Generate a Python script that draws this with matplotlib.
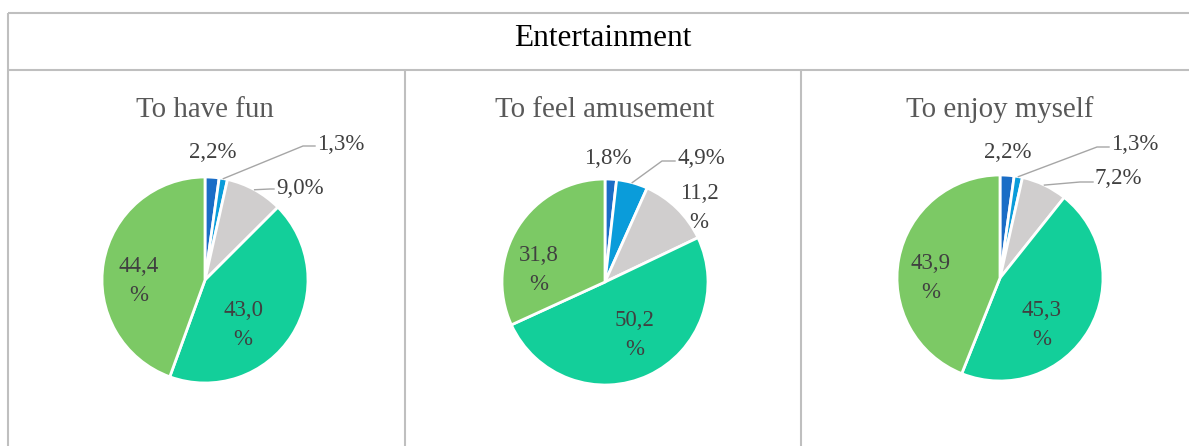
import matplotlib.pyplot as plt
import numpy as np

W, H = 1189, 446

# share of answers per item, clockwise from 12 o'clock
panel_titles = ["To have fun", "To feel amusement", "To enjoy myself"]
have_fun = [2.2, 1.3, 9.0, 43.0, 44.4]
feel_amusement = [1.8, 4.9, 11.2, 50.2, 31.8]
enjoy_myself = [2.2, 1.3, 7.2, 45.3, 43.9]
slice_colors = ["#1A6DC6", "#0A9CDA", "#D0CECE", "#13CF9A", "#7CC965"]

# pie centres and radius in pixels (y measured from the top)
centers = [(205, 280), (605, 282), (1000, 278)]
radius = 103

# label layout per pie: (x, y, wrap, leader) in pixels; leader = (elbow, end) or None
label_layout = [
    [(213, 153, False, None),
     (317, 144, False, ((303, 146), (315, 146))),
     (276, 188, False, ((270, 189), (274, 189))),
     (243, 325, True, None),
     (139, 281, True, None)],
    [(608, 158, False, None),
     (677, 158, False, ((662, 161), (675, 161))),
     (699, 208, True, None),
     (635, 335, True, None),
     (539, 270, True, None)],
    [(1008, 153, False, None),
     (1111, 144, False, ((1097, 147), (1109, 147))),
     (1095, 178, False, ((1080, 182), (1093, 182))),
     (1042, 325, True, None),
     (931, 278, True, None)],
]

SERIF = ["Liberation Serif", "DejaVu Serif"]
FRAME = "#BFBFBF"


def fmt(v, wrap):
    s = f"{v:.1f}".replace(".", ",")
    return s + ("\n%" if wrap else "%")


fig = plt.figure(figsize=(W / 100, H / 100), dpi=100)
ax = fig.add_axes([0, 0, 1, 1])

# table frame
ax.plot([8, W], [H - 13, H - 13], color=FRAME, lw=1.5, solid_capstyle="butt")
ax.plot([8, W], [H - 70, H - 70], color=FRAME, lw=1.5, solid_capstyle="butt")
ax.plot([8, 8], [H - 13, 0], color=FRAME, lw=1.5, solid_capstyle="butt")
for xd in (405, 801):
    ax.plot([xd, xd], [H - 70, 0], color=FRAME, lw=1.5, solid_capstyle="butt")

ax.text(603, H - 38, "Entertainment", ha="center", va="center",
        fontsize=22.5, family=SERIF, color="black")

series = [have_fun, feel_amusement, enjoy_myself]
for title, values, (cx, cy), layout in zip(panel_titles, series, centers, label_layout):
    ax.pie(values, colors=slice_colors, startangle=90, counterclock=False,
           center=(cx, H - cy), radius=radius,
           wedgeprops=dict(edgecolor="white", linewidth=2.0))
    ax.text(cx, H - 110, title, ha="center", va="center",
            fontsize=20.8, family=SERIF, color="#595959")

    before = np.cumsum([0] + values[:-1])
    for v, b, (lx, ly, wrap, leader) in zip(values, before, layout):
        if leader is not None:
            ang = np.deg2rad(90 - 3.6 * (b + v / 2))
            sx = cx + radius * np.cos(ang)
            sy = cy - radius * np.sin(ang)
            (ex, ey), (tx, ty) = leader
            ax.plot([sx, ex, tx], [H - sy, H - ey, H - ty],
                    color="#A6A6A6", lw=1.0)
            ax.text(lx, H - ly, fmt(v, wrap), ha="left", va="center",
                    fontsize=16.5, family=SERIF, color="#404040")
        else:
            ax.text(lx, H - ly, fmt(v, wrap), ha="center", va="center",
                    fontsize=16.5, family=SERIF, color="#404040",
                    linespacing=1.45, multialignment="center")

ax.set_xlim(0, W)
ax.set_ylim(0, H)
ax.set_aspect("auto")
ax.set_axis_off()

fig.savefig("out.png", dpi=100)
